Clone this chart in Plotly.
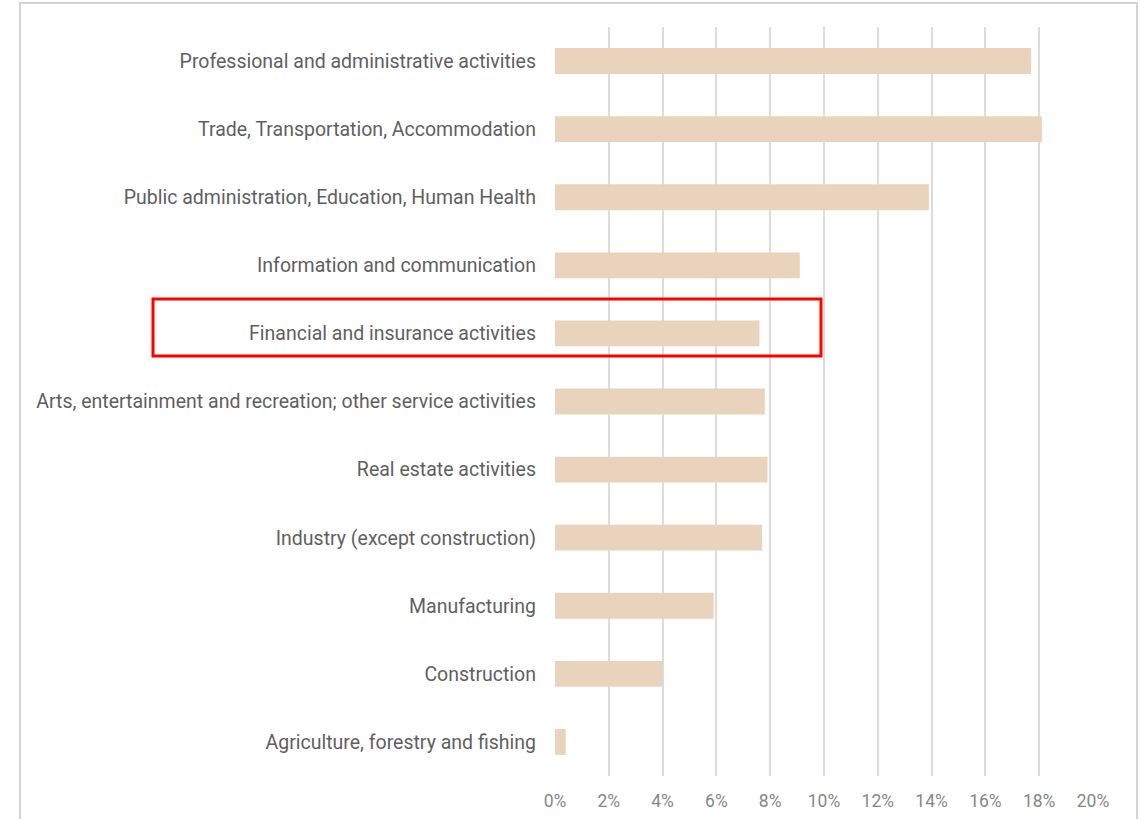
import plotly.graph_objects as go

categories = [
    "Professional and administrative activities",
    "Trade, Transportation, Accommodation",
    "Public administration, Education, Human Health",
    "Information and communication",
    "Financial and insurance activities",
    "Arts, entertainment and recreation; other service activities",
    "Real estate activities",
    "Industry (except construction)",
    "Manufacturing",
    "Construction",
    "Agriculture, forestry and fishing",
]
values = [0.177, 0.181, 0.139, 0.091, 0.076, 0.078, 0.079, 0.077, 0.059, 0.040, 0.004]
x_ticks = [0, 0.02, 0.04, 0.06, 0.08, 0.10, 0.12, 0.14, 0.16, 0.18, 0.20]
x_tick_labels = ["0%", "2%", "4%", "6%", "8%", "10%", "12%", "14%", "16%", "18%", "20%"]
highlight = "Financial and insurance activities"

W, H = 1142, 819
L, R, T, B = 555, 49, 27, 43
pw, ph = W - L - R, H - T - B

def px_x(px):
    return (px - L) / pw

def px_y(py):
    return 1 - (py - T) / ph

fig = go.Figure(go.Bar(
    x=values, y=categories, orientation="h",
    marker=dict(color="#EAD3BC", line=dict(width=0)),
    width=0.38,
))

fig.update_layout(
    width=W, height=H,
    margin=dict(l=L, r=R, t=T, b=B, autoexpand=False),
    paper_bgcolor="white", plot_bgcolor="white",
    font=dict(family="Roboto, 'Open Sans', sans-serif", color="#5F5F5F"),
    showlegend=False,
    bargap=0.62,
)
fig.update_yaxes(
    categoryorder="array", categoryarray=categories[::-1],
    showgrid=False, showline=False, zeroline=False, automargin=False,
    ticks="", ticklabelstandoff=18,
    tickfont=dict(size=19.5, color="#5F5F5F"),
)
fig.update_xaxes(
    range=[0, 0.2], tickvals=x_ticks, ticktext=x_tick_labels,
    showgrid=True, gridcolor="#DCDCDC", gridwidth=1.5,
    zeroline=False, showline=False, ticks="", automargin=False,
    ticklabelstandoff=12,
    tickfont=dict(size=17.5, color="#878787"),
)

# outer chart frame
fig.add_shape(type="rect", xref="paper", yref="paper",
              x0=px_x(20), x1=px_x(1137), y0=px_y(830), y1=px_y(3),
              line=dict(color="#D4D4D4", width=2), layer="below")

# red highlight rectangle
fig.add_shape(type="rect", xref="paper", yref="paper",
              x0=px_x(153), x1=px_x(821), y0=px_y(356), y1=px_y(299),
              line=dict(color="#FF0000", width=3))

fig.write_html("out.html", config={"displayModeBar": False},
               post_script="document.body.style.margin='0';document.body.style.overflow='hidden';")
